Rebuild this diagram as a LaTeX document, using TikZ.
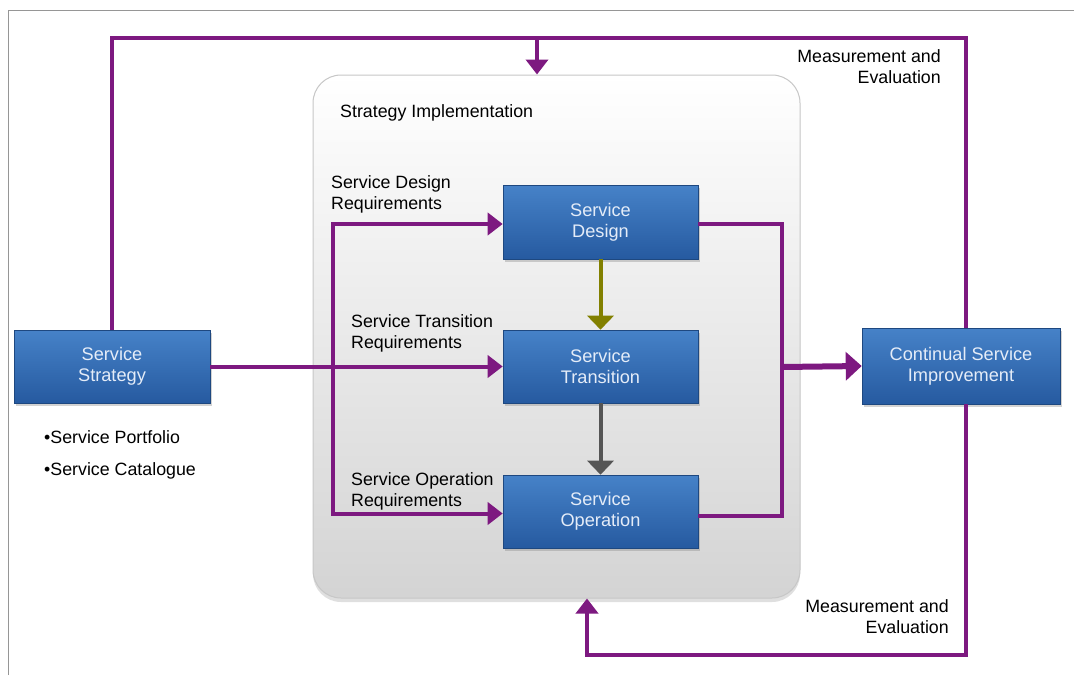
\documentclass[tikz,border=0pt]{standalone}
\usepackage{fontspec}
\setmainfont{Liberation Sans}
\usetikzlibrary{arrows.meta,shadows,calc}
\definecolor{pur}{RGB}{125,25,128}
\definecolor{oliv}{RGB}{130,128,0}
\definecolor{darr}{RGB}{85,85,85}
\definecolor{btop}{RGB}{70,130,200}
\definecolor{bbot}{RGB}{38,90,160}
\definecolor{btxt}{RGB}{228,236,248}
\definecolor{frm}{RGB}{150,150,150}
\tikzset{
  txt/.style={font=\fontsize{17.8}{21}\selectfont, inner sep=0pt, align=left},
  box/.style={rectangle, top color=btop, bottom color=bbot, draw=bbot!80!black, line width=0.6pt,
     text=btxt, font=\fontsize{18.2}{21}\selectfont, align=center,
     drop shadow={opacity=0.35, shadow xshift=2pt, shadow yshift=-3pt}},
  container/.style={rectangle, rounded corners=28pt, top color=white, bottom color=black!17,
     draw=black!22, line width=1pt, drop shadow={opacity=0.25, shadow xshift=0pt, shadow yshift=-4pt}},
  pline/.style={draw=pur, line width=4pt},
  parrow/.style={pline, -{Triangle[length=15pt,width=22pt]}},
  bigarrow/.style={draw=pur, line width=6pt, -{Triangle[length=16pt,width=28pt]}},
}
\begin{document}
\begin{tikzpicture}[x=1pt,y=-1pt]
\useasboundingbox (0,0) rectangle (1074,675);
\fill[white] (0,0) rectangle (1074,675);
% frame
\draw[frm, line width=1pt] (8,675) coordinate (fa) -- (8,10) coordinate (fb) -- (1074,10) coordinate (fc);

% container
\node[container, minimum width=487pt, minimum height=523pt] (si) at (556.5,336.5) {};
\node[txt, anchor=north west] (silab) at (340,104) {Strategy Implementation};

% boxes
\node[box, minimum width=196pt, minimum height=73pt] (ss) at (112,366.5) {Service\\Strategy};
\node[box, minimum width=195pt, minimum height=74pt] (sd) at (600.5,222) {Service\\Design};
\node[box, minimum width=195pt, minimum height=73pt] (st) at (600.5,366.5) {Service\\Transition};
\node[box, minimum width=195pt, minimum height=73pt] (so) at (600.5,511.5) {Service\\Operation};
\node[box, minimum width=198pt, minimum height=76pt] (csi) at (961,366) {Continual Service\\Improvement};

% labels
\node[txt, anchor=north west] (sdr) at (331,175) {Service Design\\Requirements};
\node[txt, anchor=north west] (str) at (351,314) {Service Transition\\Requirements};
\node[txt, anchor=north west] (sor) at (351,472) {Service Operation\\Requirements};
\node[txt, anchor=north east, align=right] (me1) at (941,49) {Measurement and\\Evaluation};
\node[txt, anchor=north east, align=right] (me2) at (949,599) {Measurement and\\Evaluation};
\node[txt, anchor=north west] (b1) at (44,430) {•Service Portfolio};
\node[txt, anchor=north west] (b2) at (44,462) {•Service Catalogue};

% coordinates
\coordinate (tj) at (537,38);
\coordinate (bj) at (587,655);
\coordinate (vj) at (333,367);
\coordinate (rj) at (782,367);

% top loop
\draw[pline] (ss.north) |- (tj) -| ([xshift=5pt]csi.north);
\draw[parrow] (tj) -- (tj |- si.north);
% bottom loop
\draw[parrow] ([xshift=5pt]csi.south) |- (bj) -- (bj |- si.south);

% requirements
\draw[parrow] (ss.east) -- (st.west);
\draw[parrow] (vj) |- ([yshift=-2pt]sd.west);
\draw[parrow] (vj) |- ([yshift=-2pt]so.west);

% outputs to CSI
\draw[pline] ([yshift=-2pt]sd.east) -| (rj);
\draw[pline] ([yshift=-4pt]so.east) -| (rj);
\draw[bigarrow] (rj) -- (csi.west);

% internal flow
\draw[draw=oliv, line width=4pt, -{Triangle[length=14pt,width=26pt]}] (sd.south) -- (st.north);
\draw[draw=darr, line width=4pt, -{Triangle[length=14pt,width=26pt]}] (st.south) -- (so.north);
\end{tikzpicture}
\end{document}
